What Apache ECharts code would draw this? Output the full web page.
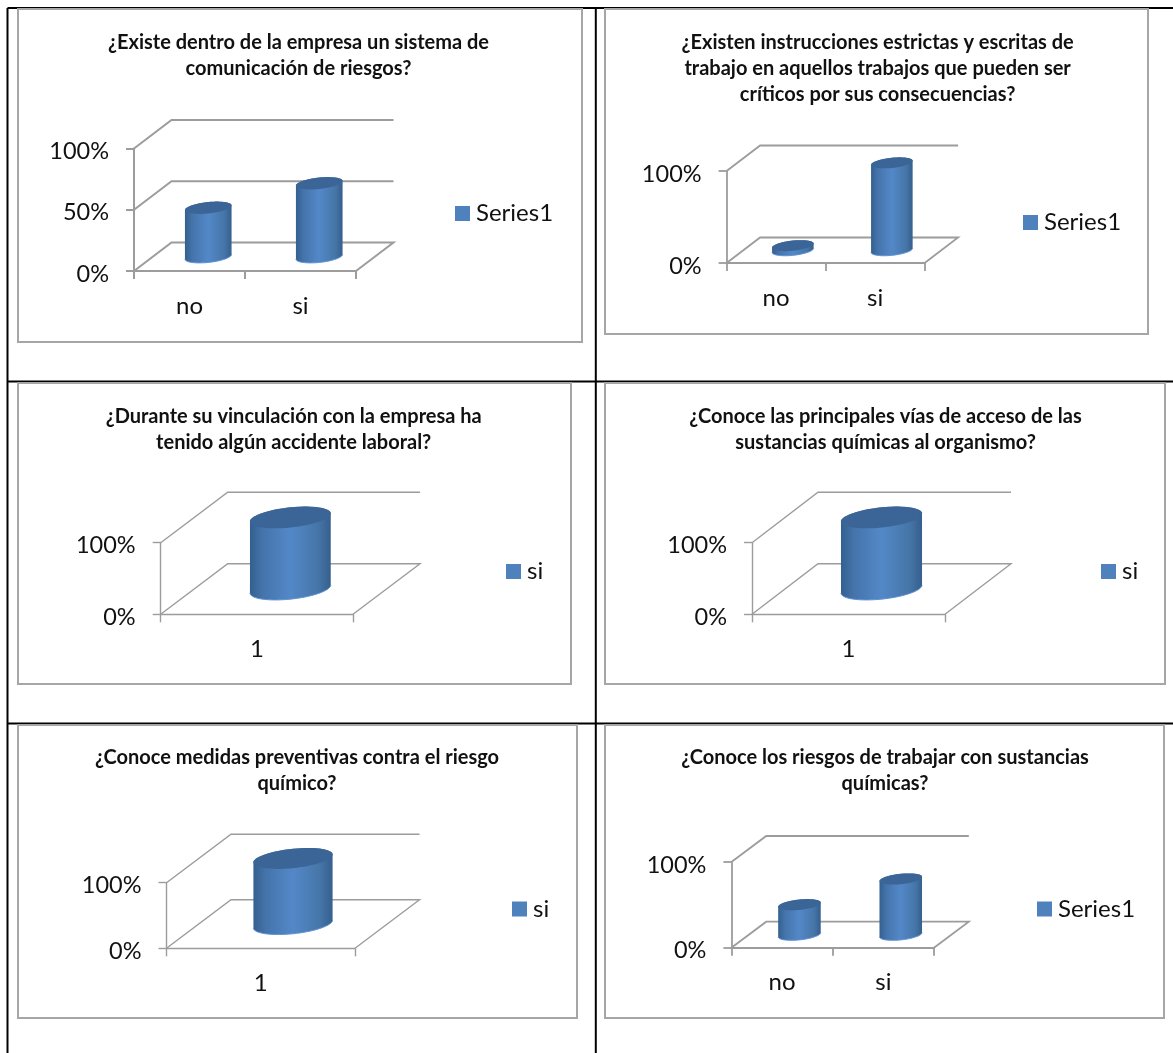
<!DOCTYPE html>
<html><head><meta charset="utf-8">
<style>html,body{margin:0;padding:0;background:#fff}#c{width:1173px;height:1053px}</style>
<script src="https://cdn.jsdelivr.net/npm/echarts@6/dist/echarts.min.js"></script>
</head><body><div id="c"></div>
<script>
// ---- data ----
const titles = [
  '¿Existe dentro de la empresa un sistema de\ncomunicación de riesgos?',
  '¿Existen instrucciones estrictas y escritas de\ntrabajo en aquellos trabajos que pueden ser\ncríticos por sus consecuencias?',
  '¿Durante su vinculación con la empresa ha\ntenido algún accidente laboral?',
  '¿Conoce las principales vías de acceso de las\nsustancias químicas al organismo?',
  '¿Conoce medidas preventivas contra el riesgo\nquímico?',
  '¿Conoce los riesgos de trabajar con sustancias\nquímicas?'
];
const categories = [['no','si'],['no','si'],['1'],['1'],['1'],['no','si']];
const seriesNames = ['Series1','Series1','si','si','si','Series1'];
const values = [[40,60],[5,95],[100],[100],[100],[35,65]];
const yIntervals = [50,100,100,100,100,100];

// ---- layout (pixels on the page) ----
const frames = [[18,9,564,333],[605,9,543,325],[18,383,553,301],[605,383,560,301],[18,725,559,293],[605,725,559,293]];
const plots = [[134,148.5,222,122.5],[726.6,171,198,92],[160.7,542.7,192.3,71.6],[752,542.7,193,71.6],[166.5,882.7,188.5,65.6],[731.4,862,202.6,85.7]];
const depths = [[37.5,-28.5],[33.5,-25.5],[67,-50.5],[66,-50.5],[64.5,-48.5],[34.8,-26]];
const lineWidths = [2,1.8,1.4,1.4,1.4,1.8];
const titlePos = [[298.5,30],[877.6,30],[293.7,404],[885.5,404],[297,745],[885,745]];
const legendPos = [[455,201.5],[1023,210.5],[506,559.5],[1101,559.5],[512,897],[1037,897]];
const tableH = [8,381.5,723.5];
const tableV = [7.5,595.8];

const FONT = 'Lato';
const AXIS = '#9c9c9c';
const TEXT = '#111';
const G = echarts.graphic;

function wallItem(depth, lw){
  return function(params, api){
    const cs = params.coordSys, v = api.value(1), y = api.coord([0,v])[1];
    const [dx,dy] = depth;
    const pts = [[cs.x,y],[cs.x+dx,y+dy],[cs.x+cs.width+dx,y+dy]];
    if (v === 0) pts.push([cs.x+cs.width,y]);
    return {type:'polyline',shape:{points:pts},style:{stroke:AXIS,lineWidth:lw,fill:null},silent:true};
  };
}
function cylinderItem(depth){
  return function(params, api){
    const i = api.value(0), v = api.value(1);
    const [dx,dy] = depth;
    const base = api.coord([i,0]), top = api.coord([i,v]);
    const rx = api.size([1,0])[0]*0.21, ry = Math.abs(dy)*0.2, s = rx*0.1;
    const cx = base[0]+dx/2, yb = base[1]+dy/2, yt = top[1]+dy/2;
    const arc = (cy,a0,a1,n)=>{const o=[];for(let k=0;k<=n;k++){const t=a0+(a1-a0)*k/n;
      o.push([cx+rx*Math.cos(t),cy+ry*Math.sin(t)-s*Math.cos(t)]);}return o;};
    const lower = arc(yb,Math.PI,0,36);     // left to right along the near edge of the base
    const upper = arc(yt,0,-Math.PI,36);    // right to left along the far edge of the top
    return {type:'group',children:[
      {type:'polygon',shape:{points:lower.concat(upper)},
       style:{fill:new G.LinearGradient(0,0,1,0,[
         {offset:0,color:'#34608f'},{offset:.16,color:'#4574ab'},{offset:.5,color:'#5388c8'},
         {offset:.84,color:'#4676a8'},{offset:1,color:'#355f8e'}])}},
      {type:'polyline',shape:{points:lower},style:{stroke:'#5f93d4',lineWidth:1,fill:null}},
      {type:'polygon',shape:{points:arc(yt,0,2*Math.PI,60)},style:{fill:'#3b6596'}}
    ]};
  };
}

const option = {
  backgroundColor:'#fff', animation:false,
  graphic:{elements:[
    ...tableH.map(y=>({type:'line',z:-20,silent:true,shape:{x1:tableV[0],y1:y,x2:1173,y2:y},style:{stroke:'#000',lineWidth:2}})),
    ...tableV.map(x=>({type:'line',z:-20,silent:true,shape:{x1:x,y1:tableH[0],x2:x,y2:1053},style:{stroke:'#000',lineWidth:2}})),
    ...frames.map(f=>({type:'rect',z:-10,silent:true,shape:{x:f[0],y:f[1],width:f[2],height:f[3]},style:{fill:'#fff',stroke:'#a6a6a6',lineWidth:2}}))
  ]},
  title:titles.map((t,i)=>({text:t,left:titlePos[i][0],top:titlePos[i][1],textAlign:'center',padding:0,
    textStyle:{fontFamily:FONT,fontWeight:'bold',fontSize:20,lineHeight:26,color:TEXT}})),
  legend:seriesNames.map((n,i)=>({data:[n],left:legendPos[i][0],top:legendPos[i][1],orient:'vertical',padding:0,
    icon:'rect',itemWidth:15,itemHeight:15,itemGap:0,selectedMode:false,
    textStyle:{fontFamily:FONT,fontSize:24,color:TEXT,padding:[0,0,0,1]}})),
  grid:plots.map(p=>({left:p[0],top:p[1],width:p[2],height:p[3],containLabel:false})),
  xAxis:categories.map((c,i)=>({type:'category',gridIndex:i,data:c,
    axisLine:{lineStyle:{color:AXIS,width:lineWidths[i]}},
    axisTick:{show:true,alignWithLabel:false,length:8,lineStyle:{color:AXIS,width:lineWidths[i]}},
    axisLabel:{fontFamily:FONT,fontSize:24,color:TEXT,margin:23},splitLine:{show:false}})),
  yAxis:yIntervals.map((iv,i)=>({type:'value',gridIndex:i,min:0,max:100,interval:iv,
    axisLine:{show:true,lineStyle:{color:AXIS,width:lineWidths[i]}},
    axisTick:{show:true,length:8,lineStyle:{color:AXIS,width:lineWidths[i]}},
    axisLabel:{margin:25,formatter:'{t|{value}%}',
      rich:{t:{fontFamily:FONT,fontSize:23.5,color:TEXT,padding:[6,0,0,0]}}},splitLine:{show:false}})),
  series:[
    ...yIntervals.map((iv,i)=>{
      const ticks=[];for(let v=0;v<=100;v+=iv)ticks.push([0,v]);
      return {type:'custom',name:'walls'+i,xAxisIndex:i,yAxisIndex:i,z:1,clip:false,silent:true,
        coordinateSystem:'cartesian2d',renderItem:wallItem(depths[i],lineWidths[i]),data:ticks};
    }),
    ...values.map((vals,i)=>({type:'custom',name:seriesNames[i],xAxisIndex:i,yAxisIndex:i,z:3,clip:false,
      coordinateSystem:'cartesian2d',itemStyle:{color:'#4f81bd'},renderItem:cylinderItem(depths[i]),
      data:vals.map((v,k)=>[k,v])}))
  ]
};
echarts.init(document.getElementById('c')).setOption(option);
</script></body></html>
